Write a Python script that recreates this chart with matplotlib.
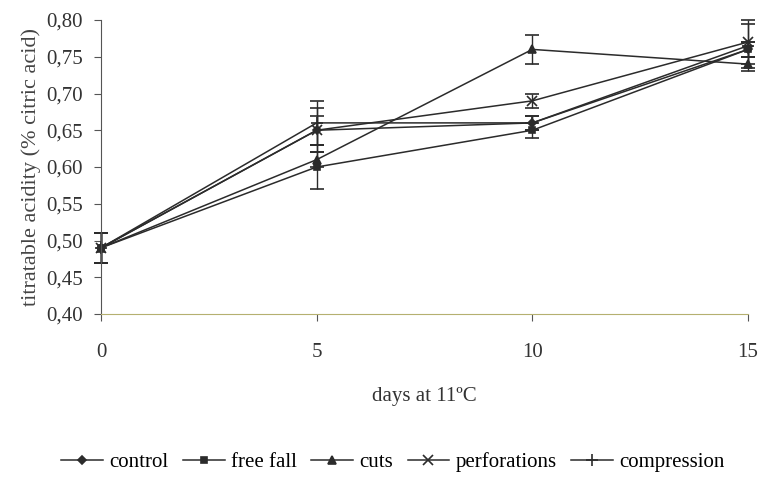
import matplotlib.pyplot as plt
from matplotlib.ticker import FuncFormatter
from matplotlib.lines import Line2D

plt.rcParams['font.family'] = ['Liberation Serif', 'DejaVu Serif']

days = [0, 5, 10, 15]

control = [0.49, 0.65, 0.66, 0.76]
free_fall = [0.49, 0.60, 0.65, 0.76]
cuts = [0.49, 0.61, 0.76, 0.74]
perforations = [0.49, 0.65, 0.69, 0.77]
compression = [0.49, 0.66, 0.66, 0.765]

control_err = [0.02, 0.03, 0.01, 0.01]
free_fall_err = [0.02, 0.03, 0.01, 0.01]
cuts_err = [0.02, 0.01, 0.02, 0.01]
perforations_err = [0.02, 0.02, 0.01, 0.03]
compression_err = [0.02, 0.03, 0.01, 0.03]

labels = ['control', 'free fall', 'cuts', 'perforations', 'compression']
markers = ['D', 's', '^', 'x', '+']
sizes = [4, 5, 6, 7, 9]
series = [control, free_fall, cuts, perforations, compression]
errors = [control_err, free_fall_err, cuts_err, perforations_err, compression_err]

fig = plt.figure(figsize=(7.63, 4.78), dpi=100)
ax = fig.add_axes([101 / 763, 1 - 314 / 478, 647 / 763, 294 / 478])

col = '#2b2b2b'
handles = []
for vals, err, lab, m, s in zip(series, errors, labels, markers, sizes):
    eb = ax.errorbar(days, vals, yerr=err, color=col, marker=m,
                     markersize=s, linewidth=1.1, elinewidth=1.0, capsize=5,
                     capthick=1.0, markeredgewidth=1.2)
    for art in eb.get_children():
        art.set_clip_on(False)
    handles.append(Line2D([], [], color=col, marker=m, markersize=s,
                          linewidth=1.1, markeredgewidth=1.2, label=lab))

ax.set_xlim(0, 15)
ax.set_ylim(0.40, 0.80)
ax.set_xticks([0, 5, 10, 15])
ax.set_yticks([0.40, 0.45, 0.50, 0.55, 0.60, 0.65, 0.70, 0.75, 0.80])
ax.yaxis.set_major_formatter(FuncFormatter(lambda v, p: f'{v:.2f}'.replace('.', ',')))

for side in ['top', 'right']:
    ax.spines[side].set_visible(False)
ax.spines['left'].set_color('#555555')
ax.spines['bottom'].set_color('#b5b070')
ax.tick_params(axis='both', labelsize=15, color='#555555', length=5, direction='out')
ax.tick_params(axis='x', pad=16)
ax.tick_params(axis='y', pad=8)

ax.set_xlabel('days at 11ºC', fontsize=15, labelpad=18, color='#333333')
ax.set_ylabel('titratable acidity (% citric acid)', fontsize=16, color='#444444', labelpad=4)

fig.legend(handles=handles, loc='center', bbox_to_anchor=(0.515, 1 - 462 / 478), ncol=5,
           frameon=False, fontsize=15, handlelength=2.0, handletextpad=0.3,
           columnspacing=0.7)
for lbl in ax.get_yticklabels() + ax.get_xticklabels():
    lbl.set_color('#333333')

fig.savefig('out.png', dpi=100)
